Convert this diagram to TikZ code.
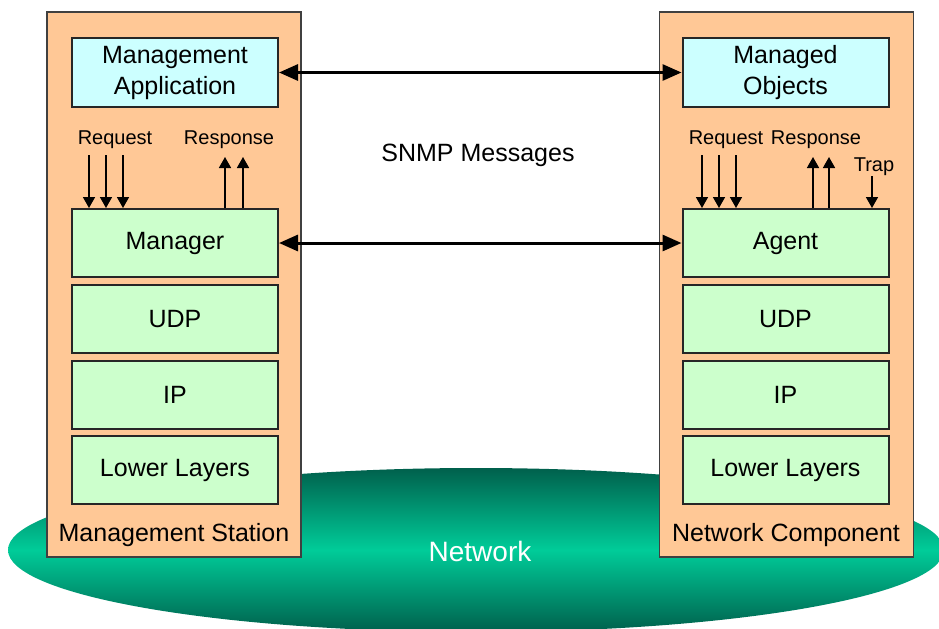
\documentclass[tikz,border=0pt]{standalone}
\usepackage{fontspec}
\setmainfont{Liberation Sans}
\usetikzlibrary{arrows.meta,shapes.geometric}
\usepackage{xcolor}
\definecolor{peach}{RGB}{255,200,150}
\definecolor{paleblue}{RGB}{204,255,255}
\definecolor{palegreen}{RGB}{204,255,204}
\definecolor{netdark}{RGB}{0,96,76}
\definecolor{netlight}{RGB}{0,204,153}

\tikzset{
  station box/.style={draw=black!75, line width=0.8pt, fill=peach,
    minimum width=127pt, minimum height=272.5pt},
  top box/.style={draw=black!85, line width=1pt, fill=paleblue, align=center,
    minimum width=103pt, minimum height=34.5pt, font=\fontsize{12.5}{15.5}\selectfont},
  layer/.style={draw=black!85, line width=1pt, fill=palegreen,
    minimum width=103pt, minimum height=34pt, font=\fontsize{12.5}{15.5}\selectfont},
  caption/.style={font=\fontsize{12.5}{15.5}\selectfont},
  small label/.style={font=\fontsize{10}{12}\selectfont, inner sep=0pt},
  msg/.style={line width=1.5pt, {Triangle[length=9.5pt,width=8pt]}-{Triangle[length=9.5pt,width=8pt]}},
  prim/.style={line width=0.8pt, -{Triangle[length=5.5pt,width=6pt]}}
}

\begin{document}
\begin{tikzpicture}[x=0.5pt, y=-0.5pt]
  \useasboundingbox (0,0) rectangle (939,628);

  % the network underneath
  \node [ellipse, minimum width=468pt, minimum height=82pt, inner sep=0pt,
    top color=netdark, bottom color=netdark, middle color=netlight] (net) at (476,550) {};
  \node [text=white, font=\fontsize{14}{16}\selectfont] (net-label) at (480,551) {Network};

  % the two stations
  \node [station box] (station) at (174,284.5) {};
  \node [station box] (component) at (786.5,284.5) {};
  \node [caption] (station-label) at (174,535) {Management Station};
  \node [caption] (component-label) at (786,535) {Network Component};

  \node [top box] (app) at (175,72.5) {Management\\Application};
  \node [top box] (obj) at (785.5,72.5) {Managed\\Objects};

  \foreach \n/\l/\r/\y in {mgr/Manager/Agent/243, udp/UDP/UDP/319, ip/IP/IP/394.5, low/Lower Layers/Lower Layers/470}{
    \node [layer] (\n-l) at (175,\y) {\l};
    \node [layer] (\n-r) at (785.5,\y) {\r};
  }

  % SNMP messages
  \draw [msg] (app.east) -- (obj.west);
  \draw [msg] (mgr-l.east) -- (mgr-r.west);
  \node [caption] (snmp) at (478,155) {SNMP Messages};

  % requests and responses
  \node [small label] (req-l) at (115,140) {Request};
  \node [small label] (rsp-l) at (229,140) {Response};
  \node [small label] (req-r) at (726,140) {Request};
  \node [small label] (rsp-r) at (816,140) {Response};
  \node [small label] (trap) at (874,167) {Trap};

  \foreach \x [count=\i] in {89,106,123}{
    \coordinate (rq-l-\i) at (\x,155);
    \draw [prim] (rq-l-\i) -- (rq-l-\i |- mgr-l.north);
  }
  \foreach \x [count=\i] in {225,243}{
    \coordinate (rs-l-\i) at (\x,157);
    \draw [prim] (rs-l-\i |- mgr-l.north) -- (rs-l-\i);
  }
  \foreach \x [count=\i] in {702,719,736}{
    \coordinate (rq-r-\i) at (\x,155);
    \draw [prim] (rq-r-\i) -- (rq-r-\i |- mgr-r.north);
  }
  \foreach \x [count=\i] in {813,829}{
    \coordinate (rs-r-\i) at (\x,157);
    \draw [prim] (rs-r-\i |- mgr-r.north) -- (rs-r-\i);
  }
  \coordinate (tp) at (872,176);
  \draw [prim] (tp) -- (tp |- mgr-r.north);
\end{tikzpicture}
\end{document}
